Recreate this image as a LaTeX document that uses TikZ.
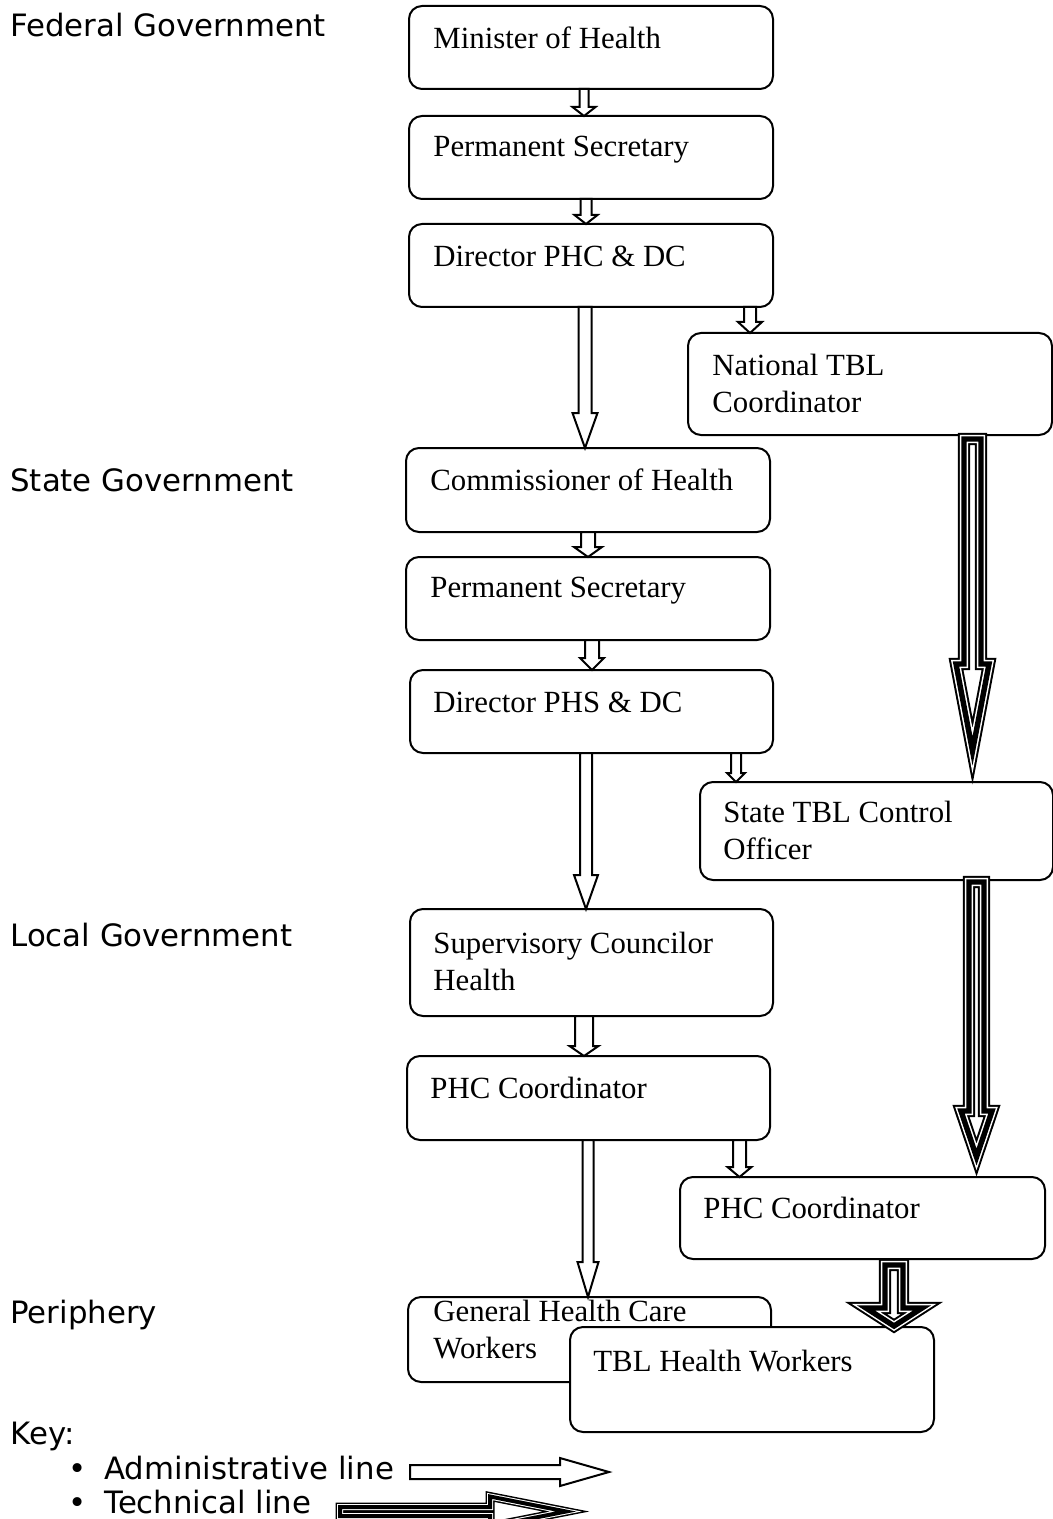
\documentclass[tikz,border=0pt]{standalone}
\usepackage{fontspec}
\setmainfont{Liberation Serif}
\newfontfamily\lblfont{DejaVu Sans}
\usetikzlibrary{calc}
\tikzset{
  orgbox/.style={draw, line width=1pt, rounded corners=6.5pt, fill=white, inner sep=0pt, outer sep=0pt, anchor=north west},
  boxtext/.style={font=\fontsize{15.4}{18.5}\selectfont, inner sep=0pt, align=left, anchor=base west},
  lvltext/.style={font=\lblfont\fontsize{15.4}{18.5}\selectfont, inner sep=0pt, anchor=base west},
  admline/.style={draw, fill=white, line width=1pt, line join=miter},
  techA/.style={draw=black, fill=white, line width=6.2pt, line join=miter},
  techB/.style={draw=white, line width=4.2pt, line join=miter},
  techC/.style={draw=black, line width=2.7pt, line join=miter},
  keyA/.style={draw=black, fill=white, line width=4.5pt, line join=miter},
  keyB/.style={draw=white, line width=3pt, line join=miter},
  keyC/.style={draw=black, line width=2pt, line join=miter},
}
% box: name, x1, y1, x2, y2 (px)
\newcommand\mkbox[5]{\node[orgbox, minimum width={(#4-#2)*0.5pt}, minimum height={(#5-#3)*0.5pt}] (#1) at (#2,#3) {};}
% administrative arrow: start, end, shaft half, head half, head length
\newcommand\admarrow[5]{\draw[admline] ($(#1)+(-#3,0)$) -- ($(#1)+(#3,0)$) -- ($(#2)+(#3,-#5)$) -- ($(#2)+(#4,-#5)$) -- (#2) -- ($(#2)+(-#4,-#5)$) -- ($(#2)+(-#3,-#5)$) -- cycle;}
% technical arrow: start, end, shaft half, head half, head start above end, tip above end, top offset
\newcommand\techarrow[7]{\foreach \st in {techA,techB,techC}{\draw[\st] ($(#1)+(-#3,#7)$) -- ($(#1)+(#3,#7)$) -- ($(#2)+(#3,-#5)$) -- ($(#2)+(#4,-#5)$) -- ($(#2)+(0,-#6)$) -- ($(#2)+(-#4,-#5)$) -- ($(#2)+(-#3,-#5)$) -- cycle;}}
\begin{document}
\begin{tikzpicture}[x=0.5pt,y=-0.5pt]
\useasboundingbox (0,0) rectangle (1053,1519);
\clip (0,0) rectangle (1053,1519);
% level labels
\node[lvltext] (lf) at (10,37) {Federal Government};
\node[lvltext] (ls) at (10,491) {State Government};
\node[lvltext] (ll) at (10,946) {Local Government};
\node[lvltext] (lp) at (10,1323) {Periphery};
\node[lvltext] (lk) at (10,1444) {Key:};
% boxes
\mkbox{b1}{409}{6}{773}{89}
\mkbox{b2}{409}{116}{773}{199}
\mkbox{b3}{409}{224}{773}{307}
\mkbox{b4}{688}{333}{1052}{435}
\mkbox{b5}{406}{448}{770}{532}
\mkbox{b6}{406}{557}{770}{640}
\mkbox{b7}{410}{670}{773}{753}
\mkbox{b8}{700}{782}{1053}{880}
\mkbox{b9}{410}{909}{773}{1016}
\mkbox{b10}{407}{1056}{770}{1140}
\mkbox{b11}{680}{1177}{1045}{1259}
\mkbox{b12}{408}{1297}{771}{1382}
\mkbox{b13}{570}{1327}{934}{1432}
% box texts
\node[boxtext] (t1) at (433,49) {Minister of Health};
\node[boxtext] (t2) at (433,157) {Permanent Secretary};
\node[boxtext] (t3) at (433,267) {Director PHC \& DC};
\node[boxtext] (t4) at (712,412) {National TBL\\Coordinator};
\node[boxtext] (t5) at (430,490) {Commissioner of Health};
\node[boxtext] (t6) at (430,597) {Permanent Secretary};
\node[boxtext] (t7) at (433,712) {Director PHS \& DC};
\node[boxtext] (t8) at (723,859) {State TBL Control\\Officer};
\node[boxtext] (t9) at (433,990) {Supervisory Councilor\\Health};
\node[boxtext] (t10) at (430,1098) {PHC Coordinator};
\node[boxtext] (t11) at (703,1218) {PHC Coordinator};
\node[boxtext] (t12) at (433,1358) {General Health Care\\Workers};
\node[boxtext] (t13) at (593,1371) {TBL Health Workers};
% administrative arrows
\coordinate (a1s) at (b1.south -| 584,0);   \coordinate (a1e) at (b2.north -| 584,0);
\coordinate (a2s) at (b2.south -| 586,0);   \coordinate (a2e) at (b3.north -| 586,0);
\coordinate (a3s) at (b3.south -| 585,0);   \coordinate (a3e) at (b5.north -| 585,0);
\coordinate (a4s) at (b3.south -| 750,0);   \coordinate (a4e) at (b4.north -| 750,0);
\coordinate (a5s) at (b5.south -| 588,0);   \coordinate (a5e) at (b6.north -| 588,0);
\coordinate (a6s) at (b6.south -| 592,0);   \coordinate (a6e) at (b7.north -| 592,0);
\coordinate (a7s) at (b7.south -| 586,0);   \coordinate (a7e) at (b9.north -| 586,0);
\coordinate (a8s) at (b7.south -| 736,0);   \coordinate (a8e) at (b8.north -| 736,0);
\coordinate (a9s) at (b9.south -| 584,0);   \coordinate (a9e) at (b10.north -| 584,0);
\coordinate (a10s) at (b10.south -| 588,0); \coordinate (a10e) at (b12.north -| 588,0);
\coordinate (a11s) at (b10.south -| 739.5,0); \coordinate (a11e) at (b11.north -| 739.5,0);
\admarrow{a1s}{a1e}{4.5}{11.5}{9}
\admarrow{a2s}{a2e}{5.5}{11.5}{9}
\admarrow{a3s}{a3e}{6.5}{12.5}{35}
\admarrow{a4s}{a4e}{6}{12}{11}
\admarrow{a5s}{a5e}{7}{14}{10}
\admarrow{a6s}{a6e}{7}{12}{12}
\admarrow{a7s}{a7e}{6}{12}{34}
\admarrow{a8s}{a8e}{5}{9}{9}
\admarrow{a9s}{a9e}{9}{14.5}{10}
\admarrow{a10s}{a10e}{5.5}{10.5}{35}
\admarrow{a11s}{a11e}{6.5}{12}{10}
% technical arrows
\coordinate (t1s) at (b4.south -| 972.5,0); \coordinate (t1e) at (b8.north -| 972.5,0);
\coordinate (t2s) at (b8.south -| 976.5,0); \coordinate (t2e) at (b11.north -| 976.5,0);
\coordinate (t3s) at (b11.south -| 894,0);  \coordinate (t3e) at (b13.north -| 894,0);
\techarrow{t1s}{t1e}{8.5}{16.5}{118}{31}{4}
\techarrow{t2s}{t2e}{7.5}{15.5}{66}{20}{2}
\techarrow{t3s}{t3e}{9}{28}{19}{1}{6}
% key
\node[lvltext] (kb1) at (68,1479) {•};
\node[lvltext] (kt1) at (104,1479) {Administrative line};
\node[lvltext] (kb2) at (68,1513) {•};
\node[lvltext] (kt2) at (104,1513) {Technical line};
\coordinate (ka1) at (410,1472); \coordinate (ka2) at (609,1472);
\draw[admline] ($(ka1)+(0,-7)$) -- ($(ka2)+(-49,-7)$) -- ($(ka2)+(-49,-14)$) -- (ka2) -- ($(ka2)+(-49,14)$) -- ($(ka2)+(-49,7)$) -- ($(ka1)+(0,7)$) -- cycle;
\coordinate (kt1s) at (340,1511.5); \coordinate (kt1e) at (587,1511.5);
\foreach \st in {keyA,keyB,keyC}{\draw[\st] ($(kt1s)+(0,-4.5)$) -- ($(kt1e)+(-97,-4.5)$) -- ($(kt1e)+(-97,-15)$) -- ($(kt1e)+(-21,0)$) -- ($(kt1e)+(-97,15)$) -- ($(kt1e)+(-97,4.5)$) -- ($(kt1s)+(0,4.5)$) -- cycle;}
\end{tikzpicture}
\end{document}
